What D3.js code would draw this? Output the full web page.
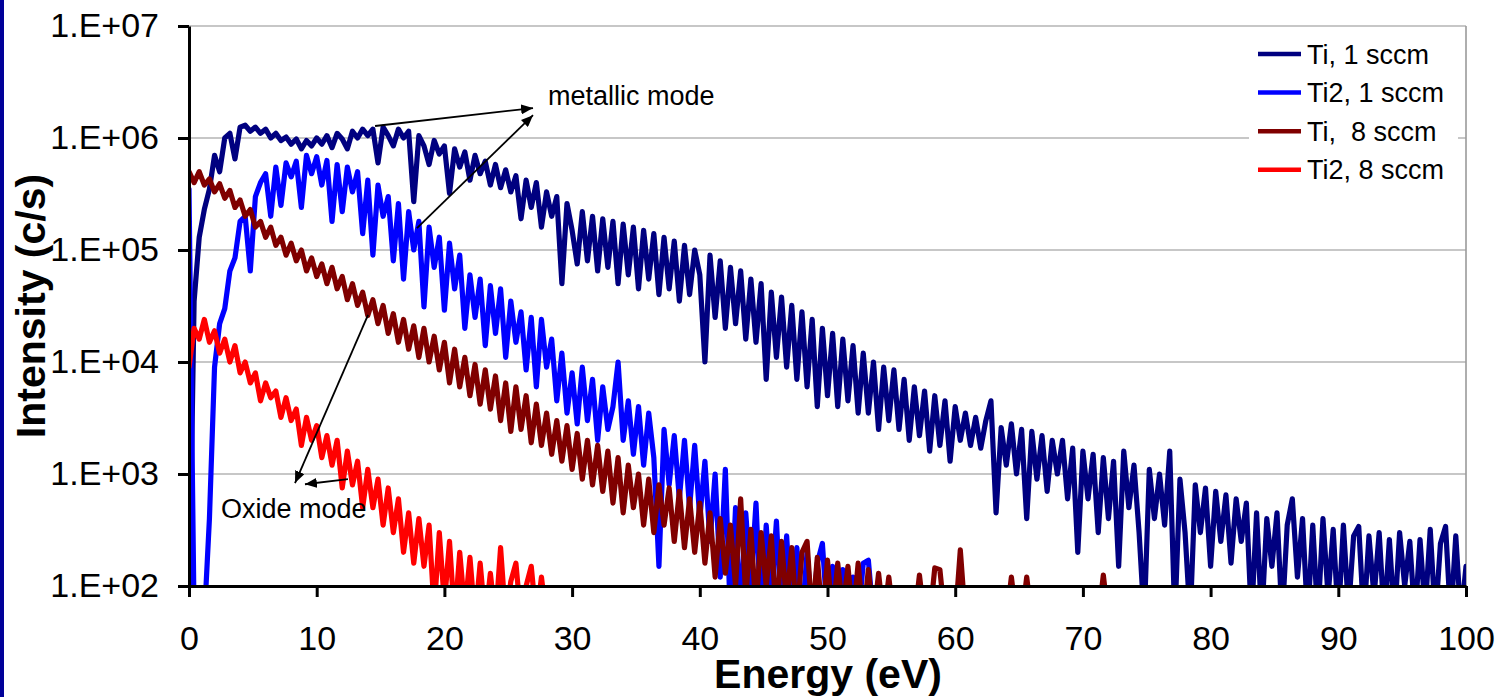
<!DOCTYPE html>
<html>
<head>
<meta charset="utf-8">
<script src="https://cdn.jsdelivr.net/npm/d3@7"></script>
<style>
  html, body { margin: 0; padding: 0; background: #fff; }
  svg { display: block; }
  text { font-family: "Liberation Sans", Arial, sans-serif; fill: #000; }
</style>
</head>
<body>
<svg id="chart" width="1502" height="697"></svg>
<script>
// Energy grid: samples every 0.4 eV starting at 0 eV
const energyStep = 0.4;

// Intensities in counts per second
const ti1sccm = [
  50, 3.5e4, 1.3e5, 2.3e5, 3.5e5, 7.0e5, 5.0e5, 1.0e6, 1.1e6, 6.5e5,
  1.25e6, 1.3e6, 1.15e6, 1.25e6, 1.1e6, 1.2e6, 1.0e6, 1.1e6, 9.5e5, 1.02e6,
  8.8e5, 9.8e5, 8.0e5, 9.5e5, 8.5e5, 1.0e6, 8.8e5, 1.05e6, 8.2e5, 1.1e6,
  9.8e5, 8.0e5, 1.15e6, 1.0e6, 1.2e6, 1.05e6, 1.2e6, 6.0e5, 1.25e6, 1.05e6,
  8.5e5, 1.2e6, 1.0e6, 1.15e6, 2.7e5, 1.05e6, 8.5e5, 5.8e5, 9.5e5, 7.2e5,
  8.5e5, 3.2e5, 8.0e5, 5.5e5, 7.5e5, 4.2e5, 7.0e5, 4.8e5, 6.2e5, 3.8e5,
  5.8e5, 3.6e5, 5.2e5, 3.3e5, 4.6e5, 1.9e5, 4.2e5, 2.4e5, 4.0e5, 1.6e5,
  3.3e5, 2.0e5, 3.0e5, 5.0e4, 2.6e5, 1.5e5, 7.5e4, 2.2e5, 8.0e4, 2.0e5,
  6.5e4, 1.9e5, 7.0e4, 1.8e5, 5.0e4, 1.7e5, 6.0e4, 1.6e5, 4.5e4, 1.5e5,
  5.5e4, 1.4e5, 4.0e4, 1.3e5, 4.5e4, 1.2e5, 3.5e4, 1.1e5, 4.0e4, 1.0e5,
  6.0e4, 1.0e4, 9.0e4, 2.5e4, 8.0e4, 2.0e4, 7.0e4, 2.2e4, 6.5e4, 1.6e4,
  5.5e4, 1.5e4, 5.0e4, 7.0e3, 4.2e4, 1.1e4, 3.8e4, 9.0e3, 3.2e4, 7.0e3,
  2.8e4, 6.0e3, 2.4e4, 4.0e3, 2.0e4, 5.0e3, 1.8e4, 4.0e3, 1.6e4, 4.5e3,
  1.4e4, 3.5e3, 1.2e4, 3.5e3, 1.0e4, 2.5e3, 9.0e3, 3.0e3, 8.5e3, 2.5e3,
  7.0e3, 2.0e3, 6.0e3, 2.2e3, 5.5e3, 1.6e3, 5.0e3, 1.8e3, 4.5e3, 1.3e3,
  4.0e3, 2.0e3, 3.5e3, 1.8e3, 3.2e3, 1.7e3, 3.0e3, 4.5e3, 4.5e2, 2.6e3,
  1.2e3, 2.8e3, 1.0e3, 2.5e3, 4.0e2, 2.4e3, 9.0e2, 2.2e3, 7.0e2, 2.0e3,
  1.0e3, 2.0e3, 6.0e2, 1.7e3, 2.0e2, 1.6e3, 6.0e2, 1.5e3, 3.0e2, 1.4e3,
  4.0e2, 1.3e3, 1.5e2, 1.6e3, 5.0e2, 1.2e3, 3.0e2, 50, 1.1e3, 4.0e2,
  1.0e3, 3.5e2, 1.6e3, 50, 9.0e2, 3.0e2, 50, 8.0e2, 3.0e2, 7.5e2,
  1.5e2, 7.0e2, 2.5e2, 6.5e2, 1.6e2, 6.0e2, 2.5e2, 5.5e2, 50, 4.5e2,
  50, 4.0e2, 1.5e2, 4.5e2, 50, 3.5e2, 6.0e2, 1.2e2, 4.0e2, 50,
  3.5e2, 50, 4.0e2, 80, 3.2e2, 50, 3.5e2, 60, 2.8e2, 3.4e2,
  50, 2.8e2, 80, 3.0e2, 50, 2.6e2, 50, 3.0e2, 1.0e2, 2.5e2,
  50, 2.6e2, 60, 3.2e2, 50, 2.4e2, 3.4e2, 50, 2.8e2, 50,
  1.5e2
];

const ti2_1sccm = [
  3.5e5, 50, 50, 50, 4.0e2, 9.0e3, 2.2e4, 3.0e4, 6.5e4, 8.5e4,
  1.8e5, 2.0e5, 6.5e4, 3.0e5, 4.0e5, 4.8e5, 2.0e5, 5.5e5, 2.5e5, 6.0e5,
  4.5e5, 6.2e5, 2.4e5, 7.0e5, 4.8e5, 6.8e5, 3.8e5, 6.3e5, 1.8e5, 5.8e5,
  2.2e5, 5.5e5, 3.3e5, 5.0e5, 1.4e5, 4.2e5, 9.0e4, 3.8e5, 2.0e5, 3.0e5,
  8.0e4, 2.6e5, 5.5e4, 2.2e5, 1.0e5, 1.8e5, 3.1e4, 1.6e5, 7.0e4, 1.3e5,
  2.9e4, 1.15e5, 4.5e4, 9.0e4, 2.0e4, 6.0e4, 2.5e4, 5.5e4, 1.4e4, 4.8e4,
  1.8e4, 4.5e4, 1.1e4, 3.5e4, 1.5e4, 2.8e4, 8.5e3, 2.5e4, 6.0e3, 2.4e4,
  9.0e3, 1.6e4, 4.5e3, 1.2e4, 3.5e3, 8.0e3, 2.8e3, 9.0e3, 3.0e3, 7.0e3,
  2.0e3, 6.0e3, 2.5e3, 4.0e3, 1.0e4, 2.0e3, 4.5e3, 1.5e3, 4.0e3, 1.2e3,
  3.5e3, 1.4e3, 1.5e2, 2.5e3, 8.0e2, 2.2e3, 6.0e2, 2.0e3, 5.0e2, 1.8e3,
  4.0e2, 1.3e3, 2.5e2, 1.0e3, 1.2e2, 1.1e3, 50, 5.0e2, 50, 4.5e2,
  1.0e2, 5.5e2, 50, 3.5e2, 80, 3.8e2, 50, 2.8e2, 50, 2.2e2,
  50, 2.0e2, 50, 1.6e2, 2.4e2, 50, 1.5e2, 50, 1.4e2, 50,
  1.2e2, 50, 1.6e2, 1.7e2, 50, 1.1e2, 50
];

const ti8sccm = [
  5.0e5, 4.0e5, 5.0e5, 3.8e5, 4.3e5, 3.3e5, 3.9e5, 2.9e5, 3.4e5, 2.4e5,
  2.8e5, 2.0e5, 2.3e5, 1.6e5, 1.8e5, 1.3e5, 1.6e5, 1.1e5, 1.3e5, 9.0e4,
  1.15e5, 8.0e4, 1.0e5, 6.5e4, 8.5e4, 5.8e4, 7.5e4, 5.0e4, 7.0e4, 4.5e4,
  5.8e4, 3.6e4, 5.0e4, 3.2e4, 4.2e4, 2.6e4, 3.6e4, 2.2e4, 3.2e4, 1.8e4,
  2.7e4, 1.5e4, 2.4e4, 1.3e4, 2.1e4, 1.1e4, 2.0e4, 1.0e4, 1.7e4, 8.5e3,
  1.5e4, 6.5e3, 1.3e4, 6.0e3, 1.1e4, 5.0e3, 9.5e3, 4.2e3, 8.5e3, 3.8e3,
  7.5e3, 3.0e3, 6.5e3, 2.4e3, 6.0e3, 2.5e3, 5.0e3, 1.9e3, 4.2e3, 1.8e3,
  3.5e3, 1.5e3, 3.0e3, 1.3e3, 2.7e3, 1.1e3, 2.3e3, 9.0e2, 2.0e3, 8.0e2,
  1.8e3, 7.0e2, 1.6e3, 5.5e2, 1.4e3, 4.5e2, 1.2e3, 5.0e2, 1.0e3, 3.5e2,
  9.0e2, 3.0e2, 8.0e2, 3.5e2, 7.5e2, 2.5e2, 7.0e2, 2.2e2, 6.0e2, 2.0e2,
  5.5e2, 1.6e2, 4.5e2, 1.2e2, 4.0e2, 1.3e2, 3.5e2, 1.0e2, 6.0e2, 80,
  3.2e2, 60, 3.0e2, 1.0e2, 2.8e2, 50, 2.5e2, 70, 2.2e2, 50,
  2.0e2, 2.5e2, 50, 1.8e2, 50, 1.7e2, 50, 1.6e2, 60, 1.5e2,
  50, 1.6e2, 50, 1.4e2, 50, 1.3e2, 50, 1.2e2, 50, 50,
  50, 50, 50, 1.25e2, 50, 50, 1.45e2, 1.4e2, 50, 50,
  50, 2.1e2, 50, 50, 50, 50, 50, 50, 50, 50,
  50, 1.2e2, 50, 50, 1.2e2, 50, 50, 50, 50, 50,
  50, 50, 50, 50, 50, 50, 50, 50, 50, 1.25e2,
  50
];

const ti2_8sccm = [
  9.0e3, 2.0e4, 1.6e4, 2.4e4, 1.5e4, 1.9e4, 1.2e4, 1.6e4, 1.0e4, 1.4e4,
  8.0e3, 1.0e4, 6.5e3, 8.0e3, 4.5e3, 6.5e3, 4.8e3, 5.5e3, 3.2e3, 4.8e3,
  3.0e3, 3.8e3, 1.8e3, 3.2e3, 2.0e3, 2.7e3, 1.4e3, 2.2e3, 1.2e3, 2.0e3,
  7.5e2, 1.6e3, 8.0e2, 1.3e3, 5.0e2, 1.1e3, 5.0e2, 9.0e2, 3.5e2, 7.5e2,
  3.0e2, 6.0e2, 2.0e2, 4.5e2, 1.6e2, 4.0e2, 1.5e2, 3.5e2, 60, 3.0e2,
  70, 2.5e2, 50, 2.0e2, 60, 1.8e2, 50, 1.6e2, 50, 1.3e2,
  50, 2.2e2, 50, 1.1e2, 1.6e2, 50, 1.0e2, 1.5e2, 50, 1.2e2,
  50
];

const seriesNames = ["Ti, 1 sccm", "Ti2, 1 sccm", "Ti,  8 sccm", "Ti2, 8 sccm"];
const seriesColors = ["#000080", "#0000ff", "#800000", "#ff0000"];
const seriesValues = [ti1sccm, ti2_1sccm, ti8sccm, ti2_8sccm];

const yTickValues = [1e2, 1e3, 1e4, 1e5, 1e6, 1e7];
const yTickLabels = ["1.E+02", "1.E+03", "1.E+04", "1.E+05", "1.E+06", "1.E+07"];
const xTickValues = [0, 10, 20, 30, 40, 50, 60, 70, 80, 90, 100];

const annotations = [
  { text: "metallic mode", x: 548, y: 105 },
  { text: "Oxide mode", x: 221, y: 518 }
];
// arrows in data space: [energy (eV), intensity (c/s)], tail -> head
const arrows = [
  { from: [14.57, 1.28e6], to: [26.94, 1.85e6] },
  { from: [17.85, 1.57e5], to: [26.94, 1.60e6] },
  { from: [14.02, 2.63e4], to: [8.30, 8.3e2] },
  { from: [12.45, 9.0e2], to: [9.08, 8.1e2] }
];

const svg = d3.select("#chart");
const W = 1502, H = 697;
const plot = { left: 189, right: 1466, top: 26, bottom: 586 };

svg.append("rect").attr("width", W).attr("height", H).attr("fill", "#fff");
svg.append("rect").attr("x", 0).attr("y", 0).attr("width", 4).attr("height", H).attr("fill", "#000099");

const x = d3.scaleLinear().domain([0, 100]).range([plot.left, plot.right]);
const y = d3.scaleLog().domain([1e2, 1e7]).range([plot.bottom, plot.top]);

// gridlines
svg.append("g")
  .selectAll("line")
  .data(yTickValues.slice(1))
  .join("line")
  .attr("x1", plot.left).attr("x2", plot.right)
  .attr("y1", d => y(d)).attr("y2", d => y(d))
  .attr("stroke", "#b4b4b4").attr("stroke-width", 1.6);

// right frame edge
svg.append("line")
  .attr("x1", plot.right).attr("x2", plot.right)
  .attr("y1", plot.top).attr("y2", plot.bottom)
  .attr("stroke", "#9a9a9a").attr("stroke-width", 1.6);

svg.append("defs").append("clipPath").attr("id", "plotClip")
  .append("rect")
  .attr("x", plot.left).attr("y", plot.top)
  .attr("width", plot.right - plot.left).attr("height", plot.bottom - plot.top);

const line = d3.line()
  .x((d, i) => x(i * energyStep))
  .y(d => y(d));

const gLines = svg.append("g").attr("clip-path", "url(#plotClip)");
seriesValues.forEach((vals, k) => {
  gLines.append("path")
    .datum(vals)
    .attr("d", line)
    .attr("fill", "none")
    .attr("stroke", seriesColors[k])
    .attr("stroke-width", 5.2)
    .attr("stroke-linejoin", "round")
    .attr("stroke-linecap", "round");
});

// axes
const yAxis = d3.axisLeft(y)
  .tickValues(yTickValues)
  .tickFormat((d, i) => yTickLabels[i])
  .tickSize(11).tickSizeOuter(0).tickPadding(19);
const gy = svg.append("g").attr("transform", `translate(${plot.left},0)`).call(yAxis);

const xAxis = d3.axisBottom(x)
  .tickValues(xTickValues)
  .tickFormat(d3.format("d"))
  .tickSize(11).tickSizeOuter(0).tickPadding(29);
const gx = svg.append("g").attr("transform", `translate(0,${plot.bottom})`).call(xAxis);

[gx, gy].forEach(g => {
  g.select(".domain").attr("stroke", "#000").attr("stroke-width", 3);
  g.selectAll(".tick line").attr("stroke", "#000").attr("stroke-width", 3);
  g.selectAll(".tick text")
    .attr("font-family", "Liberation Sans, Arial, sans-serif")
    .attr("font-size", 34).attr("fill", "#000");
});

// axis titles
svg.append("text")
  .attr("x", 828).attr("y", 688)
  .attr("text-anchor", "middle")
  .attr("font-size", 41).attr("font-weight", "bold")
  .text("Energy (eV)");

svg.append("text")
  .attr("transform", "translate(45,306) rotate(-90)")
  .attr("text-anchor", "middle")
  .attr("font-size", 41).attr("font-weight", "bold")
  .text("Intensity (c/s)");

// legend
const legend = svg.append("g");
legend.append("rect")
  .attr("x", 1249).attr("y", 34).attr("width", 209).attr("height", 156)
  .attr("fill", "#fff");
seriesNames.forEach((name, k) => {
  const cy = 54 + k * 38.6;
  legend.append("line")
    .attr("x1", 1258).attr("x2", 1301).attr("y1", cy).attr("y2", cy)
    .attr("stroke", seriesColors[k]).attr("stroke-width", 4.5);
  legend.append("text")
    .attr("x", 1307).attr("y", cy + 9.5)
    .attr("font-size", 27)
    .style("white-space", "pre")
    .text(name);
});

// annotations
svg.append("defs").append("marker")
  .attr("id", "arrowHead")
  .attr("viewBox", "0 0 12 10")
  .attr("refX", 12).attr("refY", 5)
  .attr("markerWidth", 12).attr("markerHeight", 10)
  .attr("markerUnits", "userSpaceOnUse")
  .attr("orient", "auto")
  .append("path").attr("d", "M0,0 L12,5 L0,10 Z").attr("fill", "#000");

svg.append("g").selectAll("line")
  .data(arrows)
  .join("line")
  .attr("x1", d => x(d.from[0])).attr("y1", d => y(d.from[1]))
  .attr("x2", d => x(d.to[0])).attr("y2", d => y(d.to[1]))
  .attr("stroke", "#000").attr("stroke-width", 1.8)
  .attr("marker-end", "url(#arrowHead)");

svg.append("g").selectAll("text")
  .data(annotations)
  .join("text")
  .attr("x", d => d.x).attr("y", d => d.y)
  .attr("font-size", 27)
  .text(d => d.text);
</script>
</body>
</html>
